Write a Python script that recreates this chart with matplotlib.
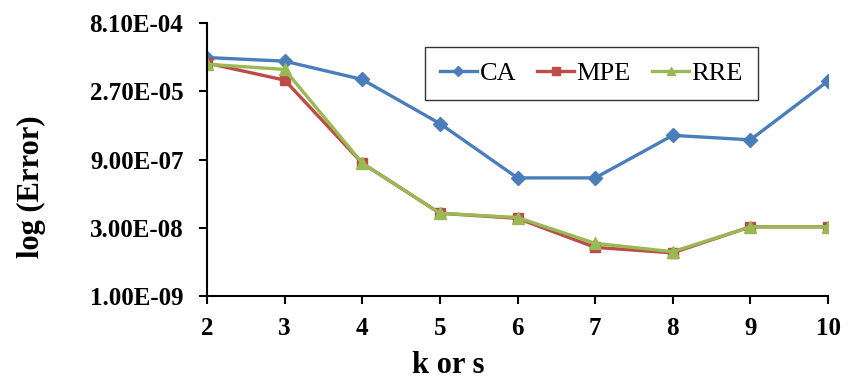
import numpy as np
import matplotlib.pyplot as plt
from matplotlib.ticker import FixedLocator, FuncFormatter

plt.rcParams['font.family'] = ['Liberation Serif', 'DejaVu Serif']

k = [2, 3, 4, 5, 6, 7, 8, 9, 10]
ca = [1.45e-4, 1.21e-4, 4.86e-5, 5.4e-6, 3.6e-7, 3.6e-7, 3.0e-6, 2.4e-6, 4.5e-5]
mpe = [1.1e-4, 4.7e-5, 7.5e-7, 6.2e-8, 4.8e-8, 1.13e-8, 8.6e-9, 3.15e-8, 3.15e-8]
rre = [1.04e-4, 8.0e-5, 7.5e-7, 6.2e-8, 5.0e-8, 1.38e-8, 9.1e-9, 3.15e-8, 3.15e-8]
yticks = [1.0e-9, 3.0e-8, 9.0e-7, 2.7e-5, 8.1e-4]

fig = plt.figure(figsize=(8.54, 3.81), dpi=100)
ax = fig.add_axes([0.2424, 0.223, 0.7272, 0.7166])

ax.plot(k, ca, color='#4A7EBB', lw=2.4, marker='D', ms=7.5, label='CA')
ax.plot(k, mpe, color='#BE4B48', lw=2.4, marker='s', ms=7.5, label='MPE')
ax.plot(k, rre, color='#98B954', lw=2.4, marker='^', ms=8.5, label='RRE')

ax.set_yscale('log')
ax.set_ylim(1e-9, 8.1e-4)
ax.set_xlim(2, 10)
ax.yaxis.set_major_locator(FixedLocator(yticks))
ax.yaxis.set_minor_locator(FixedLocator([]))
ax.yaxis.set_major_formatter(FuncFormatter(lambda v, p: '%.2E' % v))
ax.set_xticks(k)

for s in ['top', 'right']:
    ax.spines[s].set_visible(False)
for s in ['left', 'bottom']:
    ax.spines[s].set_linewidth(1.5)
ax.tick_params(direction='out', length=6, width=1.5, labelsize=18)
ax.tick_params(axis='y', pad=11)
ax.tick_params(axis='x', pad=9)
for lab in ax.get_xticklabels() + ax.get_yticklabels():
    lab.set_fontweight('bold')

fig.text(448 / 854, 0.04, 'k or s', fontsize=22, fontweight='bold', ha='center', va='center')
fig.text(31 / 854, 0.509, 'log (Error)', fontsize=22, fontweight='bold', rotation=90,
         ha='center', va='center')

leg = ax.legend(loc='upper center', bbox_to_anchor=(0.619, 0.96), ncol=3, fontsize=19,
                frameon=True, fancybox=False, edgecolor='black', handlelength=1.4,
                columnspacing=0.8, handletextpad=0.1, borderpad=0.55, markerscale=0.7)
leg.get_frame().set_linewidth(1.0)

fig.savefig('out.png', dpi=100)
